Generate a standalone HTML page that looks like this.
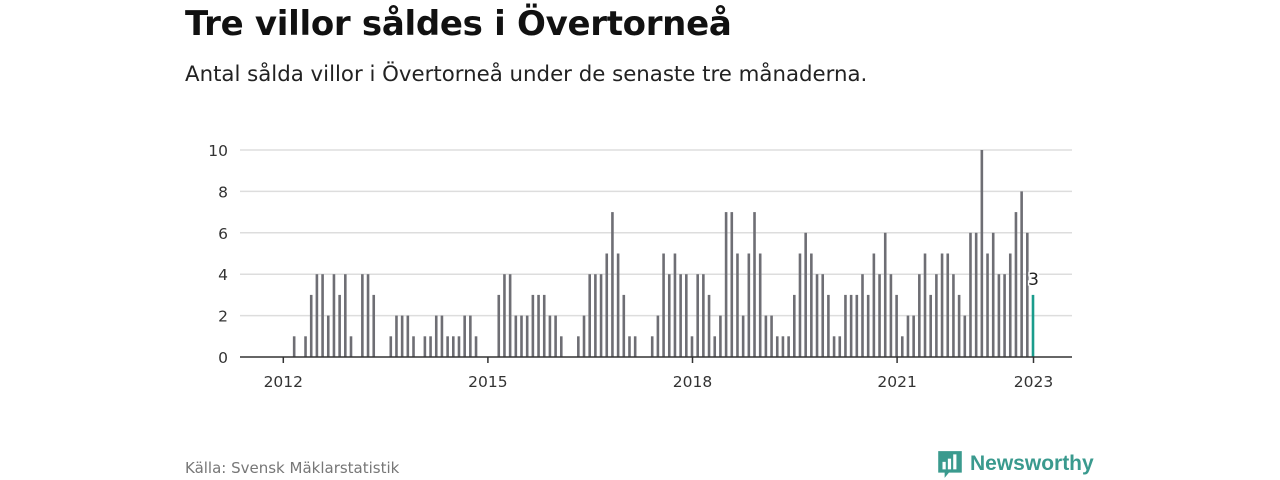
<!DOCTYPE html>
<html><head><meta charset="utf-8"><style>
body{margin:0;background:#fff;width:1280px;height:480px;overflow:hidden;font-family:"DejaVu Sans","Liberation Sans",sans-serif;}
h1{position:absolute;left:185px;top:1px;margin:0;font-size:34px;font-weight:bold;color:#111;line-height:46px;letter-spacing:-0.3px;}
.sub{position:absolute;left:185px;top:62px;font-size:21.3px;color:#222;}
.src{position:absolute;left:185px;top:459px;font-size:15px;color:#777;}
.logo{position:absolute;left:938px;top:449px;display:flex;align-items:center;gap:8px;color:#3a9a8e;font-size:20px;font-weight:bold;font-family:"Liberation Sans",sans-serif;}
</style></head><body>
<h1>Tre villor såldes i Övertorneå</h1>
<div class="sub">Antal sålda villor i Övertorneå under de senaste tre månaderna.</div>
<svg id="chart" width="1280" height="480" style="position:absolute;left:0;top:0"></svg>
<div class="src">Källa: Svensk Mäklarstatistik</div>
<div class="logo">
<svg width="24" height="30" viewBox="0 0 22 28"><path d="M0 2h22v20H10l-4 5v-5H0z" fill="#3a9a8e"/><rect x="4" y="12" width="3" height="7" fill="#fff"/><rect x="9" y="9" width="3" height="10" fill="#fff"/><rect x="14" y="5" width="3" height="14" fill="#fff"/></svg>
<span style="font-size:21px">Newsworthy</span></div>
<script>
const yTicks=[0,2,4,6,8,10];
const xTickYears=[2012,2015,2018,2021,2023];
const startYear=2012;
const nz={2:1,4:1,5:3,6:4,7:4,8:2,9:4,10:3,11:4,12:1,14:4,15:4,16:3,19:1,20:2,21:2,22:2,23:1,25:1,26:1,27:2,28:2,29:1,30:1,31:1,32:2,33:2,34:1,
38:3,39:4,40:4,41:2,42:2,43:2,44:3,45:3,46:3,47:2,48:2,49:1,52:1,53:2,54:4,55:4,56:4,57:5,58:7,59:5,60:3,61:1,62:1,
65:1,66:2,67:5,68:4,69:5,70:4,71:4,72:1,73:4,74:4,75:3,76:1,77:2,78:7,79:7,80:5,81:2,82:5,83:7,84:5,85:2,86:2,87:1,88:1,89:1,
90:3,91:5,92:6,93:5,94:4,95:4,96:3,97:1,98:1,99:3,100:3,101:3,102:4,103:3,104:5,105:4,106:6,107:4,108:3,109:1,110:2,111:2,
112:4,113:5,114:3,115:4,116:5,117:5,118:4,119:3,120:2,121:6,122:6,123:10,124:5,125:6,126:4,127:4,128:5,129:7,130:8,131:6,132:3};
const values=[];for(let i=0;i<=132;i++)values.push(nz[i]||0);
const ns="http://www.w3.org/2000/svg",svg=document.getElementById('chart');
const X=m=>283.3+m*(68.2/12), Y=v=>357-v*20.7;
function mk(t,a){const e=document.createElementNS(ns,t);for(const k in a)e.setAttribute(k,a[k]);svg.appendChild(e);return e;}
yTicks.forEach(v=>{
 if(v>0){const g=mk('line',{x1:240,x2:1072,y1:Y(v),y2:Y(v),stroke:'#ddd','stroke-width':1.5});
 
 }
 const t=mk('text',{x:228,y:Y(v)+6,'text-anchor':'end','font-size':15.5,fill:'#333','font-family':'DejaVu Sans, sans-serif'});t.textContent=v;
 
 
});
values.forEach((v,i)=>{if(!v)return;const last=i===values.length-1;
 const b=mk('rect',{x:X(i)-1.8,y:Y(v),width:2.6,height:v*20.7,fill:last?'#1a9c8c':'#6e6e74'});
 
 
 if(last){const t=mk('text',{x:X(i),y:Y(v)-10,'text-anchor':'middle','font-size':17,fill:'#222',stroke:'#fff','stroke-width':3,'paint-order':'stroke','font-family':'DejaVu Sans, sans-serif'});t.textContent=v;
 
 }
});
const ax=mk('line',{x1:240,x2:1072,y1:357,y2:357,stroke:'#333','stroke-width':1.5});


xTickYears.forEach(yr=>{const x=X((yr-startYear)*12);
 mk('line',{x1:x,x2:x,y1:357,y2:363,stroke:'#333','stroke-width':1.5});
 const t=mk('text',{x:x,y:387,'text-anchor':'middle','font-size':15.5,fill:'#333','font-family':'DejaVu Sans, sans-serif'});t.textContent=yr;
 
 
});
</script>
</body></html>
